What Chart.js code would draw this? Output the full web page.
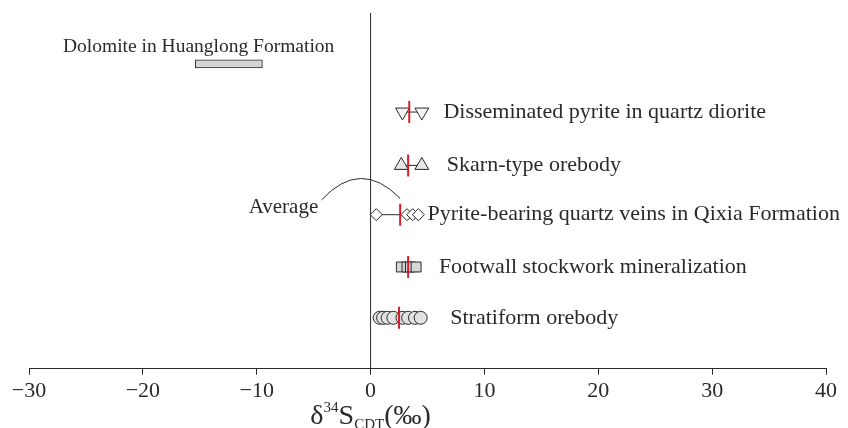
<!DOCTYPE html>
<html>
<head>
<meta charset="utf-8">
<script src="https://cdn.jsdelivr.net/npm/chart.js@4"></script>
<style>
  html, body { margin: 0; padding: 0; background: #fff; }
  canvas { display: block; }
</style>
</head>
<body>
<canvas id="sulfurChart" width="848" height="428"></canvas>
<script>
// δ34S values (‰) per sample group, one row per group
const groupNames = [
  'Dolomite in Huanglong Formation',
  'Disseminated pyrite in quartz diorite',
  'Skarn-type orebody',
  'Pyrite-bearing quartz veins in Qixia Formation',
  'Footwall stockwork mineralization',
  'Stratiform orebody'
];
const dolomiteRange = [-15.4, -9.5];
const disseminatedValues = [2.8, 4.5];
const skarnValues = [2.7, 4.5];
const quartzVeinValues = [0.5, 3.2, 3.7, 4.2];
const footwallValues = [2.7, 3.2, 3.5, 4.0];
const stratiformValues = [0.8, 1.1, 1.5, 2.0, 2.8, 3.3, 3.9, 4.4];
// group averages (red bars)
const averageValues = [3.4, 3.3, 2.6, 3.3, 2.5];
const xTicks = [-30, -20, -10, 0, 10, 20, 30, 40];

// row heights on the hidden y scale, top to bottom
const rowY = [6, 5.05, 4, 3.03, 2, 1];
// where each row's caption starts (x in ‰)
const captionX = [-15.1, 6.4, 6.7, 5.0, 6.0, 7.0];

const INK = '#2a2a2a';
const RED = '#d21f2a';
const SERIF = '"Liberation Serif", "Times New Roman", serif';

const pts = (vals, y) => vals.map(v => ({ x: v, y: y }));

function groupSet(vals, row, style, fill, radius, rotation) {
  return {
    type: 'scatter',
    data: pts(vals, rowY[row]),
    showLine: true,
    borderColor: INK,
    borderWidth: 1,
    pointStyle: style,
    pointRotation: rotation || 0,
    pointRadius: radius,
    pointBackgroundColor: fill,
    pointBorderColor: INK,
    pointBorderWidth: 1,
    order: 2
  };
}

const datasets = [
  {
    type: 'bar',
    indexAxis: 'y',
    data: [{ x: dolomiteRange, y: rowY[0] }],
    backgroundColor: '#d4d4d4',
    borderColor: INK,
    borderWidth: 1,
    borderSkipped: false,
    barThickness: 8,
    order: 3
  },
  groupSet(disseminatedValues, 1, 'triangle', '#f4f4f4', 8, 180),
  groupSet(skarnValues, 2, 'triangle', '#e6e6e6', 8, 0),
  groupSet(quartzVeinValues, 3, 'rectRot', '#ffffff', 6, 0),
  groupSet(footwallValues, 4, 'rect', '#d6d6d6', 7, 0),
  groupSet(stratiformValues, 5, 'circle', '#e2e2e2', 6.5, 0),
  {
    // zero line
    type: 'line',
    data: [{ x: 0, y: 0 }, { x: 0, y: 7 }],
    borderColor: INK,
    borderWidth: 1,
    pointRadius: 0,
    order: 4
  },
  {
    type: 'scatter',
    data: averageValues.map((v, i) => ({ x: v, y: rowY[i + 1] })),
    pointStyle: 'line',
    pointRotation: 90,
    pointRadius: 11,
    pointBorderColor: RED,
    pointBorderWidth: 2,
    showLine: false,
    order: 1
  }
];

const captions = {
  id: 'captions',
  afterDraw(chart) {
    const { ctx, scales: { x, y } } = chart;
    ctx.save();
    ctx.fillStyle = INK;
    ctx.textBaseline = 'middle';
    // row captions
    groupNames.forEach((name, i) => {
      if (i === 0) {
        ctx.font = '19.5px ' + SERIF;
        ctx.textAlign = 'center';
        ctx.fillText(name, x.getPixelForValue(captionX[i]), y.getPixelForValue(6.33));
      } else {
        ctx.font = '22px ' + SERIF;
        ctx.textAlign = 'left';
        ctx.fillText(name, x.getPixelForValue(captionX[i]), y.getPixelForValue(rowY[i]));
      }
    });

    // "Average" callout with its arc
    ctx.font = '21px ' + SERIF;
    ctx.textAlign = 'right';
    ctx.fillText('Average', x.getPixelForValue(-4.6), y.getPixelForValue(3.18));
    ctx.beginPath();
    ctx.strokeStyle = INK;
    ctx.lineWidth = 1;
    ctx.moveTo(x.getPixelForValue(-4.3), y.getPixelForValue(3.32));
    ctx.quadraticCurveTo(
      x.getPixelForValue(-0.9), y.getPixelForValue(4.15),
      x.getPixelForValue(2.6), y.getPixelForValue(3.35)
    );
    ctx.stroke();

    // axis title: δ34S with CDT subscript
    const parts = [
      { t: '\u03B4', size: 28, dy: 0 },
      { t: '34', size: 15, dy: -12 },
      { t: 'S', size: 28, dy: 0 },
      { t: 'CDT', size: 15, dy: 5 },
      { t: '(\u2030)', size: 28, dy: 0 }
    ];
    ctx.textAlign = 'left';
    ctx.textBaseline = 'alphabetic';
    let total = 0;
    parts.forEach(p => { ctx.font = p.size + 'px ' + SERIF; p.w = ctx.measureText(p.t).width; total += p.w; });
    let px = x.getPixelForValue(0) - total / 2;
    const base = 424;
    parts.forEach(p => {
      ctx.font = p.size + 'px ' + SERIF;
      ctx.fillText(p.t, px, base + p.dy);
      px += p.w;
    });
    ctx.restore();
  }
};

new Chart(document.getElementById('sulfurChart').getContext('2d'), {
  type: 'scatter',
  data: { datasets: datasets },
  options: {
    responsive: false,
    animation: false,
    devicePixelRatio: 1,
    layout: { padding: { left: 29, right: 22, top: 12, bottom: 21 } },
    plugins: { legend: { display: false }, tooltip: { enabled: false } },
    scales: {
      x: {
        type: 'linear',
        min: xTicks[0],
        max: xTicks[xTicks.length - 1],
        afterBuildTicks: axis => { axis.ticks = xTicks.map(v => ({ value: v })); },
        ticks: {
          color: INK,
          font: { family: SERIF, size: 22 },
          padding: 3,
          maxRotation: 0,
          callback: v => String(v).replace('-', '\u2212')
        },
        grid: { drawOnChartArea: false, tickLength: 6, color: INK },
        border: { display: true, color: INK, width: 1 }
      },
      y: { type: 'linear', min: 0, max: 7, offset: false, display: false }
    }
  },
  plugins: [captions]
});
</script>
</body>
</html>
